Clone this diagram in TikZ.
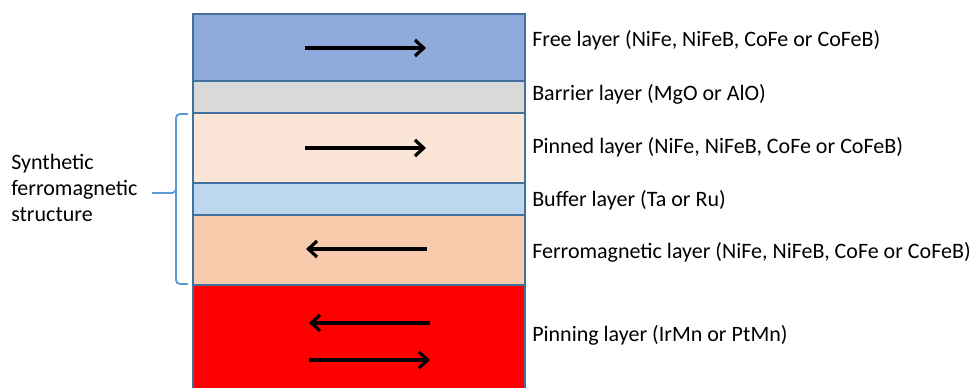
\documentclass[tikz,border=0pt]{standalone}
\usepackage{fontspec}
\setmainfont{Carlito}
\usetikzlibrary{arrows.meta}
\definecolor{edgec}{HTML}{41719C}
\definecolor{freec}{HTML}{8EA9DB}
\definecolor{barrc}{HTML}{D9D9D9}
\definecolor{pinnedc}{HTML}{FBE5D6}
\definecolor{bufc}{HTML}{BDD7EE}
\definecolor{ferroc}{HTML}{F8CBAD}
\definecolor{pinningc}{HTML}{FF0000}
\definecolor{bracec}{HTML}{5B9BD5}
\begin{document}
\begin{tikzpicture}[x=0.75pt,y=-0.75pt,
  layerbox/.style={draw=edgec, line width=1.1pt, anchor=north west, inner sep=0pt, outer sep=0pt, minimum width=249pt},
  magarrow/.style={line width=2.4pt, -{Straight Barb[length=6.5pt,width=12pt,line width=2.4pt]}},
  lbl/.style={anchor=west, inner sep=0pt, font=\fontsize{16.5pt}{19.5pt}\selectfont},
  bracestyle/.style={draw=bracec, line width=1.4pt}]
\useasboundingbox (0,0) rectangle (974,388);
% layers
\node[layerbox, fill=pinningc, minimum height=80.25pt] (pinning) at (193,285) {};
\node[layerbox, fill=ferroc, minimum height=52.5pt] (ferro) at (193,215) {};
\node[layerbox, fill=bufc, minimum height=24pt] (buffer) at (193,183) {};
\node[layerbox, fill=pinnedc, minimum height=52.5pt] (pinned) at (193,113) {};
\node[layerbox, fill=barrc, minimum height=24pt] (barrier) at (193,81) {};
\node[layerbox, fill=freec, minimum height=50.25pt] (free) at (193,14) {};
% arrows
\coordinate (fa1) at (305,48); \coordinate (fa2) at (426,48);
\coordinate (pa1) at (305,148); \coordinate (pa2) at (426,148);
\coordinate (ma1) at (427,249); \coordinate (ma2) at (306,249);
\coordinate (na1) at (430,323); \coordinate (na2) at (309,323);
\coordinate (nb1) at (309,360); \coordinate (nb2) at (430,360);
\draw[magarrow] (fa1) -- (fa2);
\draw[magarrow] (pa1) -- (pa2);
\draw[magarrow] (ma1) -- (ma2);
\draw[magarrow] (na1) -- (na2);
\draw[magarrow] (nb1) -- (nb2);
% labels
\node[lbl] (lfree) at (532,40) {Free layer (NiFe, NiFeB, CoFe or CoFeB)};
\node[lbl] (lbarr) at (532,94) {Barrier layer (MgO or AlO)};
\node[lbl] (lpinned) at (532,147) {Pinned layer (NiFe, NiFeB, CoFe or CoFeB)};
\node[lbl] (lbuf) at (532,200) {Buffer layer (Ta or Ru)};
\node[lbl] (lferro) at (532,252) {Ferromagnetic layer (NiFe, NiFeB, CoFe or CoFeB)};
\node[lbl] (lpinning) at (532,335) {Pinning layer (IrMn or PtMn)};
% brace
\coordinate (btop) at (188,114);
\coordinate (bbot) at (188,284);
\coordinate (btip) at (152,193);
\draw[bracestyle, rounded corners=3pt] (btop) -- (176,114) -- (176,193) -- (btip);
\draw[bracestyle, rounded corners=3pt] (176,186) -- (176,284) -- (bbot);
\node[lbl, align=left] (synth) at (11,188) {Synthetic\\ferromagnetic\\structure};
\end{tikzpicture}
\end{document}
